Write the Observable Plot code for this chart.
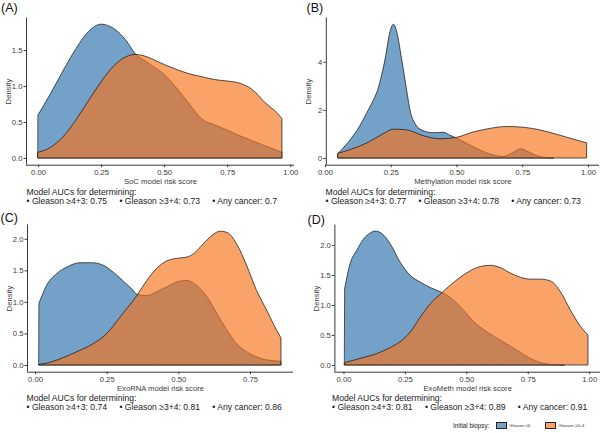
<!DOCTYPE html>
<html>
<head>
<meta charset="utf-8">
<script src="https://cdn.jsdelivr.net/npm/d3@7"></script>
<script src="https://cdn.jsdelivr.net/npm/@observablehq/plot@0.6"></script>
<style>
  html, body { margin: 0; padding: 0; background: #fff; }
  #fig { position: relative; width: 600px; height: 433px; overflow: hidden;
         font-family: "Liberation Sans", Arial, Helvetica, sans-serif; color: #1a1a1a; }
  .panel { position: absolute; }
  .tag { position: absolute; font-size: 12.5px; line-height: 1; color: #111; }
  .auc { position: absolute; font-size: 8.6px; line-height: 9.4px; color: #1a1a1a; white-space: nowrap; }
  .auc .items { display: flex; gap: 12.3px; }
  .legend { position: absolute; display: flex; align-items: center; white-space: nowrap; }
  .legend .ttl { font-size: 6.3px; color: #222; margin-right: 6.5px; }
  .legend .sw { width: 10.6px; height: 7.3px; box-sizing: border-box; border: 0.7px solid #222; }
  .legend .lab { font-size: 4.1px; color: #333; margin-left: 2.8px; margin-right: 15px; }
</style>
</head>
<body>
<div id="fig"></div>
<script>
// ---------------- data ----------------
const groups = ["Gleason ≤6", "Gleason ≥3+4"];
const groupColors = ["#4682B4", "#F87218"];
const groupOpacity = [0.75, 0.65];

const panelTags = ["(A)", "(B)", "(C)", "(D)"];
const xLabels = ["SoC model risk score", "Methylation model risk score", "ExoRNA model risk score", "ExoMeth model risk score"];
const aucLabels = ["Gleason ≥4+3", "Gleason ≥3+4", "Any cancer"];
const aucA = ["0.75", "0.73", "0.7"];
const aucB = ["0.77", "0.78", "0.73"];
const aucC = ["0.74", "0.81", "0.86"];
const aucD = ["0.81", "0.89", "0.91"];

// Panel A (SoC)
const scoreA_low  = [0, 0.05, 0.10, 0.15, 0.20, 0.25, 0.30, 0.35, 0.385, 0.42, 0.45, 0.50, 0.55, 0.60, 0.65, 0.70, 0.75, 0.80, 0.85, 0.90, 0.967];
const densA_low   = [0.60, 0.90, 1.22, 1.52, 1.76, 1.86, 1.80, 1.63, 1.45, 1.36, 1.29, 1.16, 0.97, 0.75, 0.54, 0.46, 0.39, 0.31, 0.24, 0.17, 0.08];
const scoreA_high = [0, 0.05, 0.10, 0.15, 0.20, 0.25, 0.30, 0.35, 0.385, 0.42, 0.45, 0.50, 0.55, 0.60, 0.65, 0.70, 0.75, 0.80, 0.85, 0.90, 0.95, 0.967];
const densA_high  = [0.08, 0.15, 0.30, 0.53, 0.80, 1.06, 1.28, 1.41, 1.44, 1.42, 1.38, 1.30, 1.23, 1.17, 1.13, 1.09, 1.07, 1.04, 0.95, 0.77, 0.62, 0.55];

// Panel B (Methylation)
const scoreB_low  = [0.05, 0.095, 0.13, 0.158, 0.178, 0.20, 0.23, 0.245, 0.26, 0.275, 0.29, 0.305, 0.315, 0.323, 0.342, 0.367, 0.41, 0.45, 0.475, 0.50, 0.54, 0.59, 0.64, 0.675, 0.71, 0.745, 0.775, 0.81, 0.85, 0.87];
const densB_low   = [0.20, 0.75, 1.30, 1.86, 2.28, 2.83, 4.20, 5.15, 5.56, 5.15, 4.20, 3.20, 2.50, 2.00, 1.44, 1.17, 1.05, 1.07, 0.95, 0.83, 0.60, 0.33, 0.12, 0.06, 0.20, 0.38, 0.25, 0.08, 0.01, 0.0];
const scoreB_high = [0.05, 0.095, 0.158, 0.22, 0.26, 0.31, 0.373, 0.437, 0.50, 0.563, 0.627, 0.69, 0.753, 0.816, 0.88, 0.943, 0.995];
const densB_high  = [0.20, 0.35, 0.62, 1.00, 1.20, 1.17, 0.93, 0.80, 0.86, 1.08, 1.23, 1.31, 1.28, 1.17, 0.99, 0.79, 0.63];

// Panel C (ExoRNA)
const scoreC_low  = [0.014, 0.04, 0.076, 0.11, 0.157, 0.20, 0.238, 0.273, 0.31, 0.343, 0.355, 0.39, 0.424, 0.46, 0.506, 0.53, 0.564, 0.60, 0.634, 0.67, 0.703, 0.738, 0.773, 0.808, 0.858];
const densC_low   = [0.98, 1.26, 1.45, 1.55, 1.62, 1.62, 1.58, 1.47, 1.32, 1.18, 1.12, 1.10, 1.16, 1.24, 1.33, 1.34, 1.26, 1.08, 0.82, 0.55, 0.34, 0.21, 0.13, 0.08, 0.06];
const scoreC_high = [0.014, 0.05, 0.10, 0.15, 0.20, 0.25, 0.30, 0.355, 0.39, 0.424, 0.46, 0.494, 0.53, 0.552, 0.587, 0.622, 0.645, 0.67, 0.703, 0.738, 0.773, 0.808, 0.843, 0.858];
const densC_high  = [0.01, 0.04, 0.12, 0.22, 0.33, 0.50, 0.78, 1.10, 1.34, 1.53, 1.65, 1.69, 1.71, 1.76, 1.92, 2.07, 2.12, 2.10, 1.92, 1.58, 1.18, 0.87, 0.55, 0.43];

// Panel D (ExoMeth)
const scoreD_low  = [0.005, 0.027, 0.054, 0.082, 0.109, 0.129, 0.156, 0.19, 0.231, 0.272, 0.313, 0.353, 0.394, 0.414, 0.448, 0.489, 0.53, 0.584, 0.639, 0.693, 0.747, 0.802, 0.856, 0.90];
const densD_low   = [1.28, 1.69, 1.91, 2.10, 2.20, 2.23, 2.19, 2.02, 1.71, 1.49, 1.38, 1.29, 1.22, 1.18, 1.08, 0.91, 0.72, 0.55, 0.41, 0.28, 0.14, 0.04, 0.005, 0.0];
const scoreD_high = [0.005, 0.068, 0.136, 0.19, 0.231, 0.272, 0.313, 0.353, 0.394, 0.435, 0.475, 0.516, 0.557, 0.598, 0.639, 0.68, 0.72, 0.76, 0.80, 0.842, 0.883, 0.924, 0.965, 0.995];
const densD_high  = [0.04, 0.11, 0.19, 0.29, 0.39, 0.55, 0.80, 1.02, 1.18, 1.33, 1.46, 1.57, 1.64, 1.66, 1.62, 1.53, 1.46, 1.43, 1.43, 1.40, 1.22, 0.91, 0.64, 0.50];

const ticks4 = [0, 0.25, 0.5, 0.75, 1];
const ticks3 = [0, 0.25, 0.5, 0.75];

// ---------------- drawing ----------------
const rows = (xs, ys) => xs.map((x, i) => ({x, y: ys[i]}));
const fig = document.getElementById("fig");

function panel(cfg) {
  const plot = Plot.plot({
    width: 300, height: 187,
    marginLeft: cfg.mL, marginRight: cfg.mR, marginTop: 17.5, marginBottom: 22.3,
    style: {fontFamily: '"Liberation Sans", Arial, sans-serif', fontSize: "7.7px", background: "transparent", overflow: "visible"},
    x: {domain: cfg.xDomain},
    y: {domain: cfg.yDomain},
    marks: [
      Plot.areaY(rows(cfg.low[0], cfg.low[1]), {x: "x", y: "y", curve: "monotone-x",
        fill: groupColors[0], fillOpacity: groupOpacity[0], stroke: "#1a1a1a", strokeWidth: 0.75}),
      Plot.areaY(rows(cfg.high[0], cfg.high[1]), {x: "x", y: "y", curve: "monotone-x",
        fill: groupColors[1], fillOpacity: groupOpacity[1], stroke: "#1a1a1a", strokeWidth: 0.75}),
      Plot.ruleX([cfg.xDomain[0]], {y1: cfg.yDomain[0], y2: cfg.yDomain[1], stroke: "#222", strokeWidth: 0.9}),
      Plot.ruleY([cfg.yDomain[0]], {x1: cfg.xDomain[0], x2: cfg.xDomain[1], stroke: "#222", strokeWidth: 0.9}),
      Plot.axisX({ticks: cfg.xTicks, tickFormat: d3.format(".2f"), tickSize: 2.5, tickPadding: 1.5,
        color: "#3a3a3a", label: cfg.xLabel, labelAnchor: "center", labelOffset: 19, labelArrow: "none"}),
      Plot.axisY({ticks: cfg.yTicks, tickFormat: d3.format(cfg.yFmt), tickSize: 2.5, tickPadding: 1.5,
        color: "#3a3a3a", label: "Density", labelAnchor: "center", labelOffset: 21, labelArrow: "none"})
    ]
  });
  const wrap = document.createElement("div");
  wrap.className = "panel";
  wrap.style.left = cfg.left + "px";
  wrap.style.top = cfg.top + "px";
  wrap.appendChild(plot);
  fig.appendChild(wrap);

  const tag = document.createElement("div");
  tag.className = "tag";
  tag.style.left = cfg.tagPos[0] + "px";
  tag.style.top = cfg.tagPos[1] + "px";
  tag.textContent = cfg.tag;
  fig.appendChild(tag);

  const auc = document.createElement("div");
  auc.className = "auc";
  auc.style.left = cfg.aucPos[0] + "px";
  auc.style.top = cfg.aucPos[1] + "px";
  const l1 = document.createElement("div");
  l1.textContent = "Model AUCs for determining:";
  const l2 = document.createElement("div");
  l2.className = "items";
  aucLabels.forEach((lab, i) => {
    const s = document.createElement("span");
    s.textContent = "• " + lab + ": " + cfg.auc[i];
    l2.appendChild(s);
  });
  auc.appendChild(l1); auc.appendChild(l2);
  fig.appendChild(auc);
}

panel({tag: panelTags[0], left: 0, top: 0, mL: 26, mR: 6, xDomain: [-0.048, 1.015], yDomain: [-0.093, 1.953],
  xTicks: ticks4, yTicks: [0, 0.5, 1, 1.5], yFmt: ".1f", xLabel: xLabels[0],
  low: [scoreA_low, densA_low], high: [scoreA_high, densA_high], auc: aucA, tagPos: [1, 2], aucPos: [26.5, 188]});
panel({tag: panelTags[1], left: 300, top: 0, mL: 25.8, mR: 1, xDomain: [0.003, 1.042], yDomain: [-0.278, 5.84],
  xTicks: ticks4, yTicks: [0, 2, 4], yFmt: "d", xLabel: xLabels[1],
  low: [scoreB_low, densB_low], high: [scoreB_high, densB_high], auc: aucB, tagPos: [306.5, 2], aucPos: [325.5, 188]});
panel({tag: panelTags[2], left: 0, top: 207, mL: 27, mR: 7, xDomain: [-0.028, 0.9], yDomain: [-0.106, 2.226],
  xTicks: ticks3, yTicks: [0, 0.5, 1, 1.5, 2], yFmt: ".1f", xLabel: xLabels[2],
  low: [scoreC_low, densC_low], high: [scoreC_high, densC_high], auc: aucC, tagPos: [0.5, 212], aucPos: [26.5, 393.5]});
panel({tag: panelTags[3], left: 300, top: 207, mL: 34.4, mR: 0, xDomain: [-0.037, 1.044], yDomain: [-0.112, 2.34],
  xTicks: ticks4, yTicks: [0, 0.5, 1, 1.5, 2], yFmt: ".1f", xLabel: xLabels[3],
  low: [scoreD_low, densD_low], high: [scoreD_high, densD_high], auc: aucD, tagPos: [307.5, 214], aucPos: [332, 393.5]});

// legend
const leg = document.createElement("div");
leg.className = "legend";
leg.style.left = "453px";
leg.style.top = "421.5px";
leg.style.height = "8px";
const ttl = document.createElement("span");
ttl.className = "ttl"; ttl.textContent = "Initial biopsy:";
leg.appendChild(ttl);
groups.forEach((g, i) => {
  const sw = document.createElement("span");
  sw.className = "sw";
  sw.style.background = d3.color(groupColors[i]).copy({opacity: groupOpacity[i]}).toString();
  leg.appendChild(sw);
  const lab = document.createElement("span");
  lab.className = "lab"; lab.textContent = g;
  leg.appendChild(lab);
});
fig.appendChild(leg);
</script>
</body>
</html>
